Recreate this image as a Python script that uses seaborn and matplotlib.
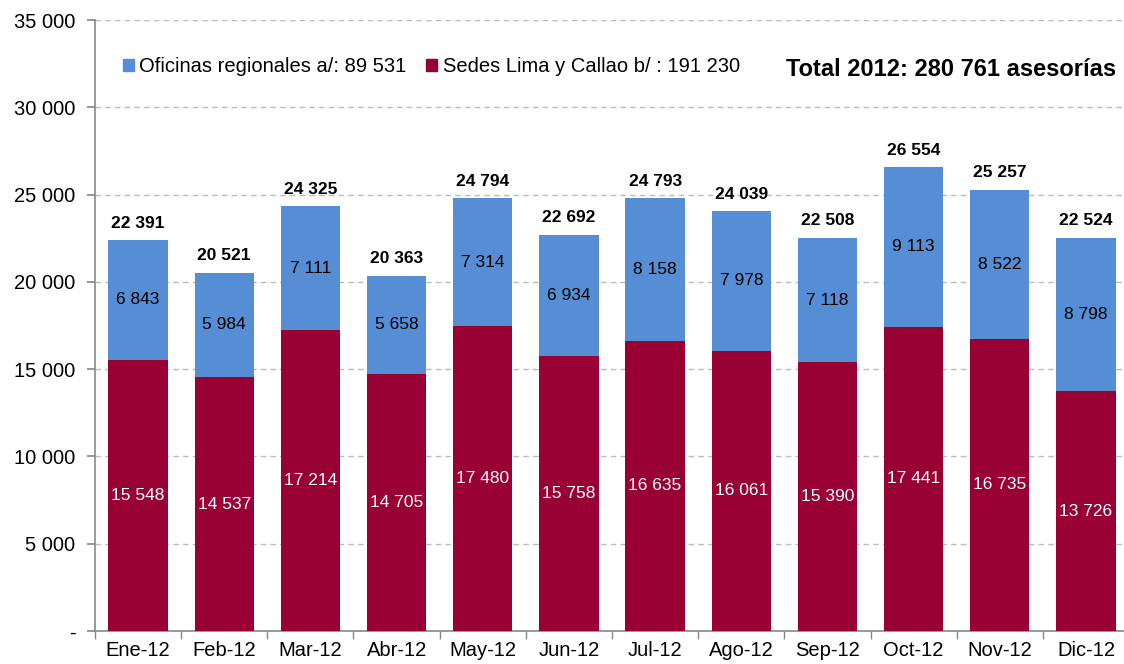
import matplotlib
matplotlib.use("Agg")
import matplotlib.pyplot as plt
import matplotlib.patches as mpatches
import seaborn as sns
import pandas as pd
import numpy as np

months = ["Ene-12", "Feb-12", "Mar-12", "Abr-12", "May-12", "Jun-12",
          "Jul-12", "Ago-12", "Sep-12", "Oct-12", "Nov-12", "Dic-12"]
lima = [15548, 14537, 17214, 14705, 17480, 15758, 16635, 16061, 15390, 17441, 16735, 13726]
regional = [6843, 5984, 7111, 5658, 7314, 6934, 8158, 7978, 7118, 9113, 8522, 8798]
legend_labels = ["Oficinas regionales a/: 89 531", "Sedes Lima y Callao b/ : 191 230"]
total_text = "Total 2012: 280 761 asesorías"
yticks = [0, 5000, 10000, 15000, 20000, 25000, 30000, 35000]

BLUE = "#558ED5"
RED = "#990033"

sns.set_theme(style="white")
plt.rcParams["font.family"] = ["Liberation Sans", "DejaVu Sans"]
plt.rcParams["text.color"] = "black"
plt.rcParams["xtick.color"] = "black"
plt.rcParams["ytick.color"] = "black"

df = pd.DataFrame({"mes": months, "lima": lima, "regional": regional})
df["total"] = df["lima"] + df["regional"]

fig = plt.figure(figsize=(11.24, 6.64), dpi=100)
ax = fig.add_axes([95 / 1124, 33 / 664, 1034 / 1124, 611 / 664])

sns.barplot(data=df, x="mes", y="total", color=BLUE, saturation=1, width=0.69,
            linewidth=0, ax=ax, zorder=3)
sns.barplot(data=df, x="mes", y="lima", color=RED, saturation=1, width=0.69,
            linewidth=0, ax=ax, zorder=4)

fmt = lambda v: f"{v:,}".replace(",", " ")

for i, (l, r) in enumerate(zip(lima, regional)):
    ax.text(i, l / 2, fmt(l), ha="center", va="center", color="white", fontsize=12.5, zorder=6)
    ax.text(i, l + r / 2, fmt(r), ha="center", va="center", color="black", fontsize=12.5, zorder=6)
    ax.text(i, l + r + 550, fmt(l + r), ha="center", va="bottom", color="black",
            fontsize=12.5, fontweight="bold", zorder=6)

ax.set_ylim(0, 35000)
ax.set_xlim(-0.5, 11.5)
ax.set_yticks(yticks)
ax.set_yticklabels(["-" if v == 0 else fmt(v) for v in yticks], fontsize=14.5)
ax.yaxis.grid(True, linestyle=(0, (4, 3)), color="#BBBBBB", linewidth=1, zorder=0)
ax.set_axisbelow(True)
ax.set_xlabel("")
ax.set_ylabel("")

ax.set_xticks(np.arange(len(months)))
ax.set_xticklabels(months, fontsize=14.5)
ax.set_xticks(np.arange(len(months) + 1) - 0.5, minor=True)
ax.tick_params(axis="x", which="major", length=0, pad=7)
ax.tick_params(axis="x", which="minor", length=6, color="#888888", direction="out", bottom=True)
ax.tick_params(axis="y", length=6, color="#888888", direction="out", left=True, pad=8)

for s in ["top", "right"]:
    ax.spines[s].set_visible(False)
for s in ["left", "bottom"]:
    ax.spines[s].set_color("#888888")
    ax.spines[s].set_linewidth(1.2)

handles = [mpatches.Patch(color=BLUE, label=legend_labels[0]),
           mpatches.Patch(color=RED, label=legend_labels[1])]
ax.legend(handles=handles, loc="center left", bbox_to_anchor=(0.027, 1 - 47 / 611), ncol=2,
          frameon=False, fontsize=14.5, handlelength=0.55, handleheight=0.55,
          handletextpad=0.25, columnspacing=1.0, borderaxespad=0, borderpad=0)

fig.text(1116 / 1124, 1 - 70 / 664, total_text, ha="right", va="center",
         fontsize=17, fontweight="bold")

fig.savefig("out.png", dpi=100)
